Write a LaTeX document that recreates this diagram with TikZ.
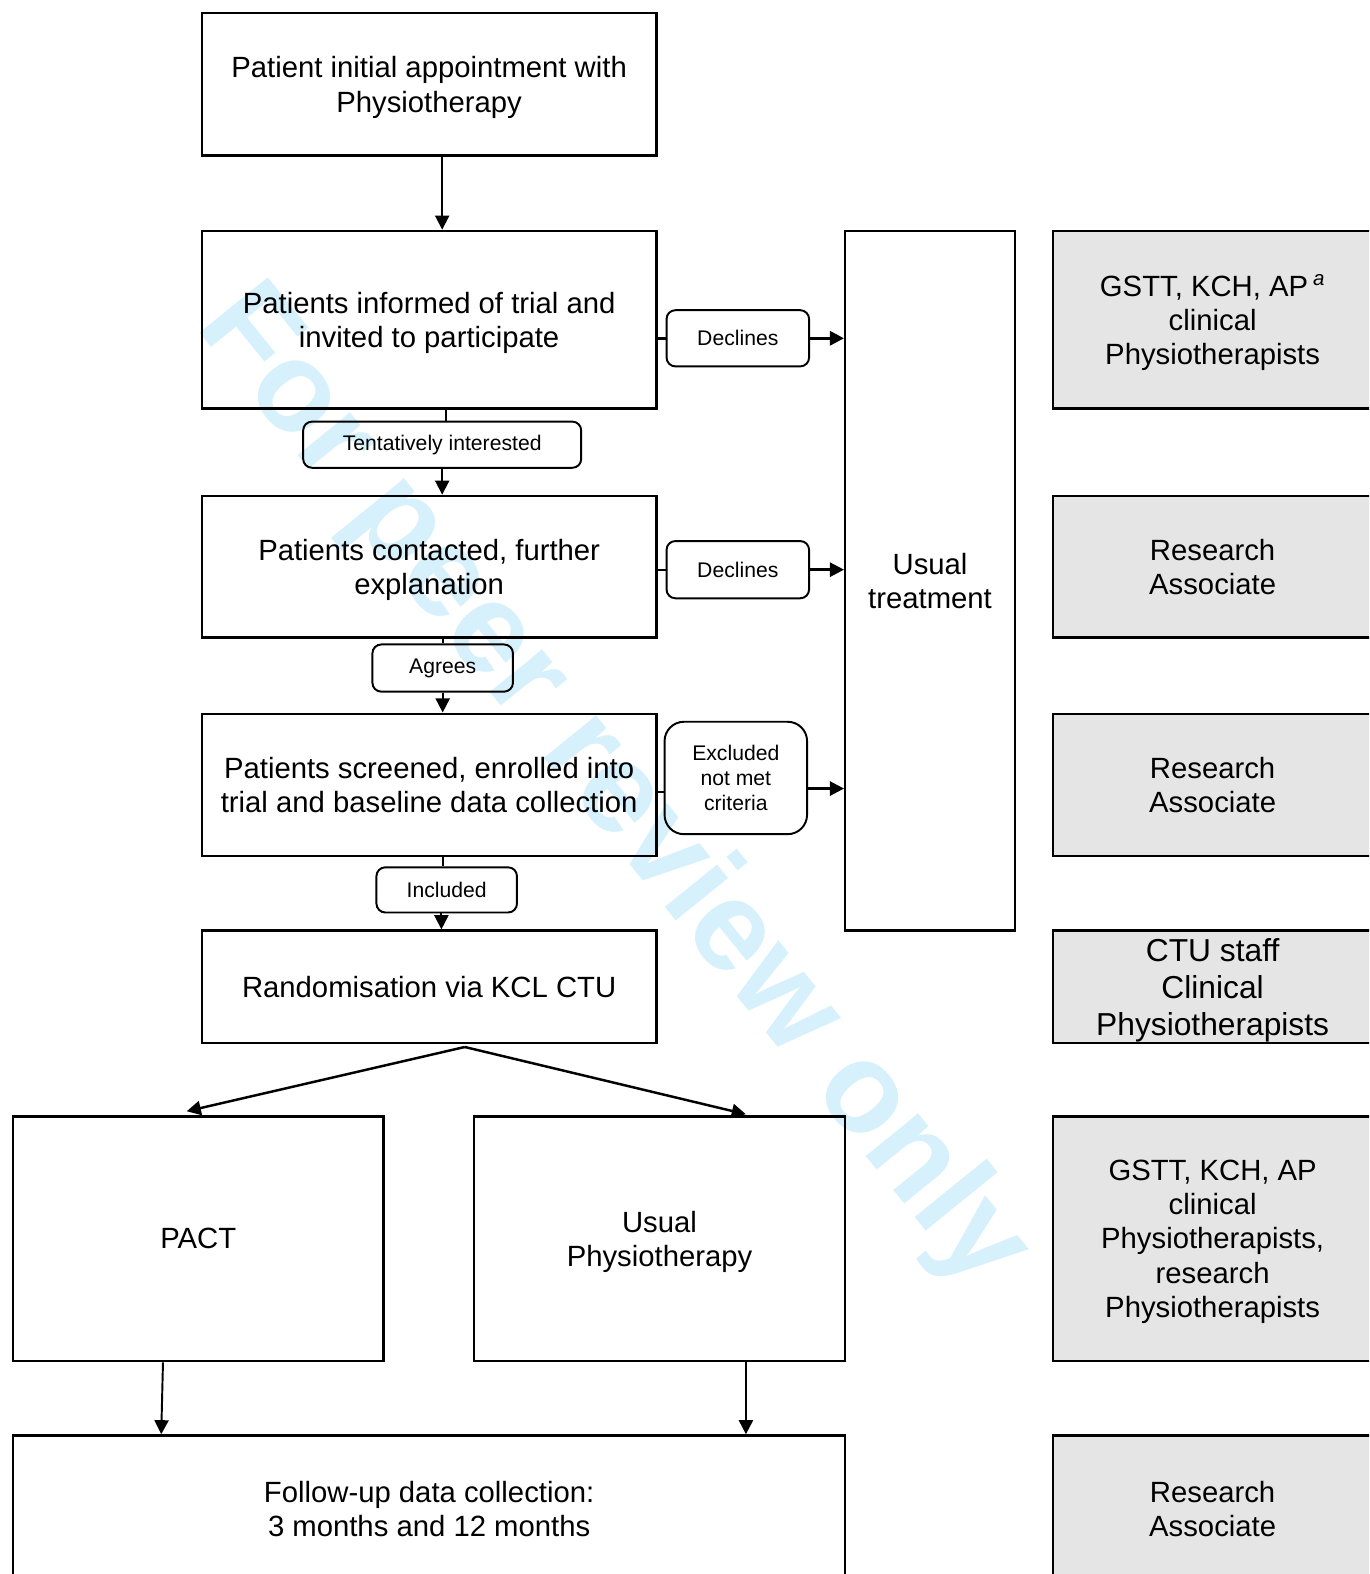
\documentclass[tikz,border=0pt]{standalone}
\usepackage{fontspec}
\setmainfont{Liberation Sans}
\usetikzlibrary{arrows.meta}
\definecolor{wmblue}{RGB}{214,240,252}
\definecolor{boxgrey}{RGB}{229,229,229}
\begin{document}
\begin{tikzpicture}[x=0.02cm,y=-0.02cm,
    box/.style={draw,line width=1.4pt,inner sep=0pt,align=center,text depth=0pt,
      minimum width=9.06cm,font=\fontsize{16.6}{19.4}\selectfont},
    staff/.style={box,fill=boxgrey,minimum width=6.36cm},
    tag/.style={draw,line width=1.1pt,rounded corners=5pt,inner sep=0pt,
      align=center,font=\fontsize{12}{14.2}\selectfont},
    arr/.style={-{Triangle[length=8pt,width=8pt]},line width=1.1pt}]
  \useasboundingbox (0,0) rectangle (1364,1568);
  \clip (0,0) rectangle (1364,1568);
  % watermark
  \node[rotate=-51,text=wmblue,font=\fontsize{72.5}{72.5}\selectfont\bfseries] (wm) at (609,786) {For peer review only};
  % main flow
  \node[box,minimum height=2.84cm] (appt) at (427.5,84) {Patient initial appointment with\\Physiotherapy};
  \node[box,minimum height=3.54cm] (inform) at (427.5,318.5) {Patients informed of trial and\\invited to participate};
  \node[box,minimum height=2.82cm] (contact) at (427.5,564.5) {Patients contacted, further\\explanation};
  \node[box,minimum height=2.84cm] (screen) at (427.5,782) {Patients screened, enrolled into\\trial and baseline data collection};
  \node[box,minimum height=2.24cm] (rand) at (427.5,983) {Randomisation via KCL CTU};
  \node[box,minimum width=7.38cm,minimum height=4.88cm] (pact) at (197.5,1234) {PACT};
  \node[box,minimum width=7.4cm,minimum height=4.88cm] (usual) at (657,1234) {Usual\\Physiotherapy};
  \node[box,minimum width=16.58cm,minimum height=2.92cm] (follow) at (427.5,1503) {Follow-up data collection:\\3 months and 12 months};
  \node[box,minimum width=3.38cm,minimum height=13.94cm] (usualtx) at (926.5,578.5) {Usual\\treatment};
  % staff column
  \node[staff,minimum height=3.54cm] (s1) at (1208,318.5) {GSTT, KCH, AP\,\textsuperscript{\textit{a}}\\clinical\\Physiotherapists};
  \node[staff,minimum height=2.82cm] (s2) at (1208,564.5) {Research\\Associate};
  \node[staff,minimum height=2.84cm] (s3) at (1208,782) {Research\\Associate};
  \node[staff,minimum height=2.24cm,font=\fontsize{18}{21}\selectfont] (s4) at (1208,983) {CTU staff\\Clinical\\Physiotherapists};
  \node[staff,minimum height=4.88cm] (s5) at (1208,1234) {GSTT, KCH, AP\\clinical\\Physiotherapists,\\research\\Physiotherapists};
  \node[staff,minimum height=2.92cm] (s6) at (1208,1503) {Research\\Associate};
  % decision labels
  \node[tag,minimum width=2.84cm,minimum height=1.12cm] (dec1) at (735,337) {Declines};
  \node[tag,minimum width=5.54cm,minimum height=0.92cm] (tent) at (440.5,443) {Tentatively interested};
  \node[tag,minimum width=2.84cm,minimum height=1.14cm] (dec2) at (735,567.5) {Declines};
  \node[tag,minimum width=2.8cm,minimum height=0.94cm] (agree) at (441,665.5) {Agrees};
  \node[tag,rounded corners=11pt,minimum width=2.84cm,minimum height=2.24cm] (excl) at (733,775) {Excluded\\not met\\criteria};
  \node[tag,minimum width=2.8cm,minimum height=0.9cm] (incl) at (445,886.5) {Included};
  % connectors
  \draw[arr] (appt.south -| tent.north) -- (inform.north -| tent.north);
  \draw[line width=1.1pt] ([xshift=2pt]inform.south -| tent.north) -- ([xshift=2pt]tent.north);
  \draw[arr] (tent.south) -- (contact.north -| tent.south);
  \draw[line width=1.1pt] (contact.south -| agree.north) -- (agree.north);
  \draw[arr] (agree.south) -- (screen.north -| agree.south);
  \draw[line width=1.1pt] ([xshift=-2pt]screen.south -| incl.north) -- ([xshift=-2pt]incl.north);
  \draw[arr] ([xshift=-3pt]incl.south) -- ([xshift=-3pt]incl.south |- rand.north);
  \draw[line width=1.4pt] (inform.east |- dec1) -- (dec1.west);
  \draw[arr,line width=1.7pt] (dec1.east) -- (dec1 -| usualtx.west);
  \draw[line width=1.1pt] (contact.east |- dec2) -- (dec2.west);
  \draw[arr,line width=1.4pt] (dec2.east) -- (dec2 -| usualtx.west);
  \draw[line width=1.1pt] ([yshift=-8pt]excl.west) -- ([yshift=-8pt]excl.west -| screen.east);
  \draw[arr,line width=1.4pt] ([yshift=-6pt]excl.east) -- ([yshift=-6pt]excl.east -| usualtx.west);
  \coordinate (split) at (463,1043);
  \coordinate (pactin) at (186,1107);
  \coordinate (usualin) at (743,1110);
  \draw[arr,line width=1.4pt] (split) -- (pactin);
  \draw[arr,line width=1.4pt] (split) -- (usualin);
  \draw[arr] ([xshift=-20pt]pact.south) -- ([xshift=-21pt]pact.south |- follow.north);
  \draw[arr] ([xshift=49pt]usual.south) -- ([xshift=49pt]usual.south |- follow.north);
\end{tikzpicture}
\end{document}
